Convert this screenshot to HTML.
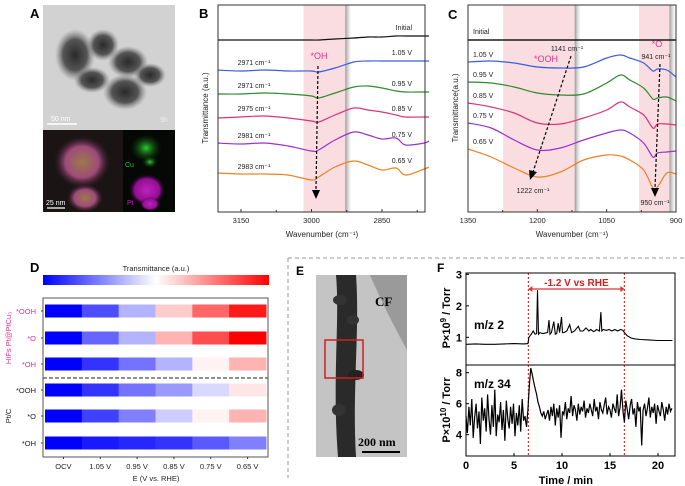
<!DOCTYPE html>
<html><head><meta charset="utf-8">
<style>
html,body{margin:0;padding:0;background:#fff;}
svg{display:block;font-family:"Liberation Sans",Arial,sans-serif;}
</style></head>
<body>
<svg id="fig" width="685" height="486" viewBox="0 0 685 486" xmlns="http://www.w3.org/2000/svg">
<defs>
<linearGradient id="shadow" x1="0" x2="1" y1="0" y2="0"><stop offset="0" stop-color="#888" stop-opacity="0.8"/><stop offset="1" stop-color="#bbb" stop-opacity="0"/></linearGradient>
<linearGradient id="cbar" x1="0" x2="1"><stop offset="0" stop-color="#0000ff"/><stop offset="0.5" stop-color="#ffffff"/><stop offset="1" stop-color="#ff0000"/></linearGradient>
<radialGradient id="blobA" cx="0.5" cy="0.5" r="0.5"><stop offset="0" stop-color="#2a2a2a"/><stop offset="0.6" stop-color="#555"/><stop offset="1" stop-color="#888" stop-opacity="0"/></radialGradient>
<radialGradient id="blobMix" cx="0.5" cy="0.5" r="0.5"><stop offset="0" stop-color="#9a7a4a"/><stop offset="0.6" stop-color="#a04a7a"/><stop offset="1" stop-color="#402030" stop-opacity="0"/></radialGradient>
<radialGradient id="blobG" cx="0.5" cy="0.5" r="0.5"><stop offset="0" stop-color="#30d030"/><stop offset="1" stop-color="#0a300a" stop-opacity="0"/></radialGradient>
<radialGradient id="blobP" cx="0.5" cy="0.5" r="0.5"><stop offset="0" stop-color="#c020c0"/><stop offset="0.7" stop-color="#901090"/><stop offset="1" stop-color="#300030" stop-opacity="0"/></radialGradient>
</defs>

<!-- Panel A -->
<g>
<text x="30" y="18" font-size="13" font-weight="bold">A</text>
<rect x="43" y="5" width="132" height="125" fill="#d2d2d2"/>
<ellipse cx="75" cy="55" rx="20" ry="26" fill="url(#blobA)"/>
<ellipse cx="103" cy="45" rx="16" ry="16" fill="url(#blobA)"/>
<ellipse cx="128" cy="62" rx="20" ry="16" fill="url(#blobA)"/>
<ellipse cx="150" cy="75" rx="16" ry="12" fill="url(#blobA)"/>
<ellipse cx="125" cy="92" rx="22" ry="18" fill="url(#blobA)"/>
<ellipse cx="92" cy="80" rx="18" ry="13" fill="url(#blobA)"/>
<line x1="47" y1="124" x2="77" y2="124" stroke="#fff" stroke-width="1.5"/>
<text x="51" y="121" font-size="7" fill="#fff">50 nm</text>
<text x="160" y="122" font-size="7" fill="#eee">9h</text>
<rect x="43" y="130" width="80" height="82" fill="#1a1414"/>
<ellipse cx="82" cy="162" rx="28" ry="26" fill="url(#blobMix)"/>
<ellipse cx="85" cy="198" rx="18" ry="14" fill="url(#blobMix)"/>
<rect x="123" y="130" width="52" height="82" fill="#050805"/>
<ellipse cx="146" cy="148" rx="16" ry="14" fill="url(#blobG)"/>
<ellipse cx="150" cy="162" rx="8" ry="6" fill="url(#blobG)"/>
<ellipse cx="147" cy="190" rx="18" ry="16" fill="url(#blobP)"/>
<ellipse cx="150" cy="204" rx="10" ry="7" fill="url(#blobP)"/>
<text x="125" y="167" font-size="7" fill="#30c030">Cu</text>
<text x="127" y="205" font-size="7" fill="#c020c0">Pt</text>
<line x1="47" y1="208" x2="65" y2="208" stroke="#fff" stroke-width="1.2"/>
<text x="46" y="205" font-size="7" fill="#fff">25 nm</text>
</g>

<g id="pb">
<text x="199" y="18" font-size="13" font-weight="bold">B</text>
</g>
<g id="pc">
<text x="448" y="19" font-size="13" font-weight="bold">C</text>
</g>
<g id="pd">
<text x="30" y="272" font-size="13" font-weight="bold">D</text>
</g>

<line x1="288" y1="258" x2="685" y2="258" stroke="#999" stroke-dasharray="4,3"/>
<line x1="288" y1="258" x2="288" y2="478" stroke="#999" stroke-dasharray="4,3"/>

<g>
<text x="296" y="275" font-size="12" font-weight="bold">E</text>
<rect x="316" y="275" width="91" height="182" fill="#c4c4c4"/>
<path d="M370,275 L407,275 L407,350 Q385,310 370,275 Z" fill="#9a9a9a"/>
<path d="M336,275 C340,320 332,380 338,457 L356,457 C352,390 360,330 356,275 Z" fill="#2a2a2a"/>
<ellipse cx="340" cy="300" rx="7" ry="5" fill="#333"/><ellipse cx="353" cy="320" rx="6" ry="5" fill="#333"/>
<ellipse cx="339" cy="410" rx="7" ry="6" fill="#333"/><ellipse cx="356" cy="375" rx="8" ry="5" fill="#222"/>
<rect x="325" y="340" width="38" height="38" fill="none" stroke="#d02020" stroke-width="1.5"/>
<text x="375" y="306" font-size="13" font-family="Liberation Serif,serif" font-weight="bold">CF</text>
<text x="358" y="446" font-size="12" font-family="Liberation Serif,serif" font-weight="bold">200 nm</text>
<line x1="362" y1="452" x2="400" y2="452" stroke="#000" stroke-width="2"/>
</g>

<g id="pf">
<text x="437" y="272" font-size="12" font-weight="bold">F</text>
</g>
</svg>
<script>
const NS='http://www.w3.org/2000/svg';
// ---------- Panel B data ----------
const bWave=[3200,3150,3100,3050,3000,2985,2950,2910,2880,2850,2820,2800,2760,2750];
const bInitial=[167,167,167,167,167,167,168,169,170,170,171,171,171,171];
const b105=[137,136,137,136,136,135,139,145,146,146,146,146,146,146];
const b095=[113,113,114,113,111,109,114,120,121,119,116,115,115,115];
const b085=[89,90,91,89,86,85,92,99,97,95,92,90,90,90];
const b075=[64,63,64,61,56,57,67,75,72,68,69,62,64,66];
const b065=[34,33,33,32,27,30,40,46,42,37,39,32,38,40];
const bLabels=['Initial','1.05 V','0.95 V','0.85 V','0.75 V','0.65 V'];
const bPeaks=['','2971 cm\u207B\u00B9','2971 cm\u207B\u00B9','2975 cm\u207B\u00B9','2981 cm\u207B\u00B9','2983 cm\u207B\u00B9'];
const bTicks=[3150,3000,2850];
const bMinor=[3075,2925,2775];
// ---------- Panel C data ----------
const cWave=[1350,1300,1250,1200,1150,1100,1050,1020,1000,970,950,940,920,900];
const cInitial=[167,167,167,167,167,167,167,167,167,167,167,167,167,167];
const c105=[145,146,144,140,139,140,149,152,149,144,136,138,137,130];
const c095=[125,124,120,114,112,113,124,132,127,119,108,109,110,106];
const c085=[104,100,94,84,83,89,97,105,100,92,79,83,83,82];
const c075=[84,79,67,57,59,67,74,77,74,64,50,54,55,56];
const c065=[58,50,39,30,35,47,52,51,47,37,19,20,34,33];
const cLabels=['Initial','1.05 V','0.95 V','0.85 V','0.75 V','0.65 V'];
const cTicks=[1350,1200,1050,900];
const cMinor=[1275,1125,975];
// ---------- Panel D data ----------
const dRows=['*OOH','*O','*OH','*OOH','*O','*OH'];
const dCols=['OCV','1.05 V','0.95 V','0.85 V','0.75 V','0.65 V'];
const dHifOOH=[-1,-0.7,-0.3,0.2,0.6,0.9];
const dHifO=[-1,-0.6,-0.3,0.3,0.7,1];
const dHifOH=[-1,-0.8,-0.55,-0.3,0.05,0.3];
const dPtOOH=[-1,-0.8,-0.55,-0.4,-0.15,0.1];
const dPtO=[-1,-0.75,-0.5,-0.2,0.05,0.3];
const dPtOH=[-1,-0.9,-0.85,-0.8,-0.65,-0.5];
// ---------- Panel F data ----------
const f2Time=[0,1,2,3,4,5,6,6.45,6.55,6.8,7.0,7.2,7.35,7.45,7.55,7.7,8.0,8.5,8.65,8.75,8.9,9.15,9.3,9.45,9.6,9.75,9.95,10.05,10.2,10.5,10.8,11.0,11.3,11.7,11.9,12.2,12.5,12.8,13.0,13.3,13.6,13.9,14.05,14.15,14.3,14.6,14.9,15.2,15.5,15.8,16.1,16.35,16.5,16.8,17.2,17.6,18.2,19,20,21.5];
const f2Val=[0.78,0.79,0.78,0.78,0.79,0.8,0.79,0.8,1.0,1.1,1.2,1.1,1.12,2.5,1.1,1.15,1.12,1.15,1.55,1.1,1.15,1.5,1.1,1.12,1.45,1.15,1.65,1.15,1.15,1.2,1.4,1.15,1.2,1.35,1.2,1.2,1.3,1.2,1.25,1.18,1.25,1.2,1.8,1.2,1.25,1.22,1.25,1.2,1.25,1.2,1.25,1.22,1.15,1.05,0.98,0.95,0.93,0.92,0.9,0.9];
const f34Val=[5.2,4.1,5.8,4.6,6.3,3.8,5.1,6.0,4.4,5.5,3.4,6.4,4.9,5.7,4.2,6.6,5.0,4.0,5.9,4.5,6.9,3.9,5.3,4.8,6.1,4.3,5.6,3.6,6.2,5.0,4.4,5.8,4.7,6.0,3.9,5.4,4.6,5.9,4.2,6.3,4.9,5.2,4.5,5.6,
7.2,8.3,7.9,7.4,7.0,6.6,6.1,5.8,5.4,5.2,5.5,5.0,5.3,
5.6,4.9,5.8,5.2,6.0,4.6,5.7,5.1,5.9,3.8,5.5,5.3,6.1,5.0,5.7,5.4,6.5,5.2,5.9,5.6,4.9,6.0,5.3,5.8,5.5,6.2,5.1,5.7,5.4,6.0,5.6,5.2,6.3,5.5,5.8,5.0,6.1,5.6,5.4,5.9,6.4,5.3,5.8,5.6,5.1,6.0,5.7,5.4,6.6,5.2,5.8,6.9,5.5,4.8,6.2,5.6,5.0,5.9,6.3,5.3,5.7,4.5,6.1,5.5,5.8,3.3,5.6,6.0,5.2,5.7,6.4,5.1,5.8,5.4,6.0,4.7,5.9,5.5,5.2,6.1,5.6,4.9,5.8,5.3,6.0,5.5,5.7];
const fTicks=[0,5,10,15,20];
const f2Ticks=[1,2,3];
const f34Ticks=[4,6,8];
const fPotential=[6.5,16.5];

function el(tag,attrs,parent,txt){const e=document.createElementNS(NS,tag);for(const k in attrs)e.setAttribute(k,attrs[k]);if(txt!==undefined)e.textContent=txt;parent.appendChild(e);return e;}
function smooth(pts){let d='M'+pts[0][0].toFixed(1)+','+pts[0][1].toFixed(1);for(let i=0;i<pts.length-1;i++){const p0=pts[i-1]||pts[i],p1=pts[i],p2=pts[i+1],p3=pts[i+2]||p2;const c1=[p1[0]+(p2[0]-p0[0])/6,p1[1]+(p2[1]-p0[1])/6],c2=[p2[0]-(p3[0]-p1[0])/6,p2[1]-(p3[1]-p1[1])/6];d+=' C'+c1[0].toFixed(1)+','+c1[1].toFixed(1)+' '+c2[0].toFixed(1)+','+c2[1].toFixed(1)+' '+p2[0].toFixed(1)+','+p2[1].toFixed(1);}return d;}
const colors=['#111','#3a5de0','#2e8b2e','#e0307a','#9b30d0','#f08020'];

// ===== Panel B =====
(function(){
const g=document.getElementById('pb');
const L=218,R=425,T=5,B=212;
const x=w=>241+(3150-w)/150*70.5;
const y=v=>207-v;
const band=el('rect',{x:x(3017),y:T,width:x(2926)-x(3017),height:B-T,fill:'#f9dde0'},g);

el('rect',{x:x(2926)-1,y:T,width:6,height:B-T,fill:'url(#shadow)'},g);
const series=[bInitial,b105,b095,b085,b075,b065];
series.forEach((s,i)=>{
 const p=el('path',{d:smooth(bWave.map((w,j)=>[x(w),y(s[j])])),fill:'none',stroke:colors[i],'stroke-width':1.2},g);
 
 
 const t=el('text',{x:412,y:y(s[s.length-2])-6,'font-size':7,'text-anchor':'end',fill:'#222'},g,bLabels[i]);
 
 if(bPeaks[i]){const t2=el('text',{x:254,y:y(s[2])-5,'font-size':7,'text-anchor':'middle',fill:'#222'},g,bPeaks[i]);
 }
});
el('line',{x1:318,y1:66,x2:316,y2:190,stroke:'#000','stroke-width':1.2,'stroke-dasharray':'3,2'},g);
el('path',{d:'M312,190 L320,190 L316,199 Z',fill:'#000'},g);
const oh=el('text',{x:319,y:59,'font-size':9,'text-anchor':'middle',fill:'#e8308a'},g,'*OH');

const box=el('rect',{x:L,y:T,width:R-L,height:B-T,fill:'none',stroke:'#333','stroke-width':1},g);

bTicks.forEach(v=>{el('line',{x1:x(v),y1:B,x2:x(v),y2:B-3,stroke:'#333'},g);
 const t=el('text',{x:x(v),y:B+11,'font-size':7.5,'text-anchor':'middle',fill:'#222'},g,v);
 });
bMinor.forEach(v=>el('line',{x1:x(v),y1:B,x2:x(v),y2:B-2,stroke:'#333'},g));
const xl=el('text',{x:322,y:237,'font-size':8,'text-anchor':'middle',fill:'#222'},g,'Wavenumber (cm\u207B\u00B9)');

const yl=el('text',{x:0,y:0,'font-size':8,'text-anchor':'middle',fill:'#222',transform:'translate(208,108) rotate(-90)'},g,'Transmittance (a.u.)');

})();

// ===== Panel C =====
(function(){
const g=document.getElementById('pc');
const L=468,R=676,T=5,B=212;
const x=w=>468+(1350-w)/450*208;
const y=v=>207-v;
[[1274,1117,'ooh-band'],[980,912,'o-band']].forEach(b=>{
 const r=el('rect',{x:x(b[0]),y:T,width:x(b[1])-x(b[0]),height:B-T,fill:'#f9dde0'},g);
 
 el('rect',{x:x(b[1])-1,y:T,width:6,height:B-T,fill:'url(#shadow)'},g);
});
const series=[cInitial,c105,c095,c085,c075,c065];
series.forEach((s,i)=>{
 const p=el('path',{d:smooth(cWave.map((w,j)=>[x(w),y(s[j])])),fill:'none',stroke:colors[i],'stroke-width':1.2},g);
 
 
 const t=el('text',{x:473,y:y(s[0])-(i==0?6:5),'font-size':7,fill:'#222'},g,cLabels[i]);
 
});
el('line',{x1:571,y1:56,x2:533,y2:172,stroke:'#000','stroke-width':1.2,'stroke-dasharray':'3,2'},g);
el('path',{d:'M529,170 L537,172 L530,180 Z',fill:'#000'},g);
el('line',{x1:660,y1:64,x2:655,y2:188,stroke:'#000','stroke-width':1.2,'stroke-dasharray':'3,2'},g);
el('path',{d:'M651,188 L659,188 L655,197 Z',fill:'#000'},g);
const ann=[[567,51,'1141 cm\u207B\u00B9',7,'#222'],[546,62,'*OOH',9,'#e8308a'],[533,193,'1222 cm\u207B\u00B9',7,'#222'],[657,47,'*O',9,'#e8308a'],[656,59,'941 cm\u207B\u00B9',7,'#222'],[655,205,'950 cm\u207B\u00B9',7,'#222']];
ann.forEach(a=>{const t=el('text',{x:a[0],y:a[1],'font-size':a[3],'text-anchor':'middle',fill:a[4]},g,a[2]);
 });
const box=el('rect',{x:L,y:T,width:R-L,height:B-T,fill:'none',stroke:'#333'},g);

el('line',{x1:L,y1:y(cInitial[0]),x2:R,y2:y(cInitial[0]),stroke:'#111','stroke-width':1.2},g);
cTicks.forEach(v=>{el('line',{x1:x(v),y1:B,x2:x(v),y2:B-3,stroke:'#333'},g);
 const t=el('text',{x:x(v),y:B+11,'font-size':7.5,'text-anchor':'middle',fill:'#222'},g,v);
 });
cMinor.forEach(v=>el('line',{x1:x(v),y1:B,x2:x(v),y2:B-2,stroke:'#333'},g));
const xl=el('text',{x:572,y:237,'font-size':8,'text-anchor':'middle',fill:'#222'},g,'Wavenumber (cm\u207B\u00B9)');

const yl=el('text',{x:0,y:0,'font-size':8,'text-anchor':'middle',fill:'#222',transform:'translate(458,108) rotate(-90)'},g,'Transmittance(a.u.)');

})();

// ===== Panel D =====
(function(){
const g=document.getElementById('pd');
const L=43,R=268,T=298,B=457;
const colW=(R-2-(L+2))/6;
const rowY=[311,338,364,390,416,443];
const rows=[dHifOOH,dHifO,dHifOH,dPtOOH,dPtO,dPtOH];
function col(v){let r,gg,b;if(v<0){const t=1+v;r=Math.round(255*t);gg=r;b=255;}else{const t=1-v;r=255;gg=Math.round(255*t);b=gg;}return `rgb(${r},${gg},${b})`;}
const cb=el('rect',{x:43,y:275,width:226,height:10,fill:'url(#cbar)'},g);

const ct=el('text',{x:156,y:271,'font-size':7.5,'text-anchor':'middle',fill:'#222'},g,'Transmittance (a.u.)');

rows.forEach((vals,i)=>{
 vals.forEach((v,j)=>{
  const c=el('rect',{x:L+2+j*colW,y:rowY[i]-6.5,width:colW+0.5,height:13,fill:col(v)},g);
  
 });
 const t=el('text',{x:36,y:rowY[i]+3,'font-size':7.5,'text-anchor':'end',fill:i<3?'#e8308a':'#222'},g,dRows[i]);
 
 el('line',{x1:L,y1:rowY[i],x2:L-2,y2:rowY[i],stroke:'#333'},g);
});
el('line',{x1:L,y1:378,x2:R,y2:378,stroke:'#222','stroke-width':1,'stroke-dasharray':'4,2'},g);
const box=el('rect',{x:L,y:T,width:R-L,height:B-T,fill:'none',stroke:'#555'},g);

dCols.forEach((c,j)=>{const cx=L+2+(j+0.5)*colW;el('line',{x1:cx,y1:B,x2:cx,y2:B+2,stroke:'#333'},g);
 const t=el('text',{x:cx,y:469,'font-size':7.5,'text-anchor':'middle',fill:'#222'},g,c);
 });
const xl=el('text',{x:156,y:481,'font-size':7.5,'text-anchor':'middle',fill:'#222'},g,'E (V vs. RHE)');

const g1=el('text',{x:0,y:0,'font-size':7.5,'text-anchor':'middle',fill:'#e8308a',transform:'translate(11,338) rotate(-90)'},g,'HIFs Pt@PtCu\u2083');

const g2=el('text',{x:0,y:0,'font-size':7.5,'text-anchor':'middle',fill:'#222',transform:'translate(11,416) rotate(-90)'},g,'Pt/C');

})();

// ===== Panel F =====
(function(){
const g=document.getElementById('pf');
const L=466,R=675,T=273,M=365,B=456;
const x=t=>466+t*9.6;
const y2=v=>262/3+250-(v-1)*31.5;
const y34=v=>250+368/3-(v-8)*15.5;
const dt=0.15;
fPotential.forEach(t=>{const l=el('line',{x1:x(t),y1:T,x2:x(t),y2:B,stroke:'#e03030','stroke-width':1.2,'stroke-dasharray':'2,2'},g);
 });
el('line',{x1:x(fPotential[0])+1,y1:289,x2:x(fPotential[1])-1,y2:289,stroke:'#e03030','stroke-width':1.2},g);
el('path',{d:`M${x(fPotential[0])},289 l4,-3 v6 Z M${x(fPotential[1])},289 l-4,-3 v6 Z`,fill:'#e03030'},g);
const pl=el('text',{x:(x(fPotential[0])+x(fPotential[1]))/2,y:286,'font-size':10,'font-weight':'bold','text-anchor':'middle',fill:'#d02020'},g,'-1.2 V vs RHE');

let d='';f2Time.forEach((t,i)=>{d+=(i?'L':'M')+x(t).toFixed(1)+','+y2(f2Val[i]).toFixed(1);});
const p2=el('path',{d:d,fill:'none',stroke:'#000','stroke-width':1.1},g);

let d2='';f34Val.forEach((v,i)=>{d2+=(i?'L':'M')+x(i*dt).toFixed(1)+','+y34(v).toFixed(1);});
const p34=el('path',{d:d2,fill:'none',stroke:'#000','stroke-width':1.2},g);

const f1=el('rect',{x:L,y:T,width:R-L,height:M-T,fill:'none',stroke:'#000','stroke-width':1},g);

const f2=el('rect',{x:L,y:M,width:R-L,height:B-M,fill:'none',stroke:'#000','stroke-width':1},g);

f2Ticks.forEach(v=>{el('line',{x1:L,y1:y2(v),x2:L+3,y2:y2(v),stroke:'#000'},g);
 const t=el('text',{x:L-4,y:y2(v)+4,'font-size':11,'font-weight':'bold','text-anchor':'end'},g,v);
 });
f34Ticks.forEach(v=>{el('line',{x1:L,y1:y34(v),x2:L+3,y2:y34(v),stroke:'#000'},g);
 const t=el('text',{x:L-4,y:y34(v)+4,'font-size':11,'font-weight':'bold','text-anchor':'end'},g,v);
 });
fTicks.forEach(v=>{el('line',{x1:x(v),y1:B,x2:x(v),y2:B-3,stroke:'#000'},g);
 const t=el('text',{x:x(v),y:B+13,'font-size':11,'font-weight':'bold','text-anchor':'middle'},g,v);
 });
const xl=el('text',{x:x(10.4),y:484,'font-size':11,'font-weight':'bold','text-anchor':'middle'},g,'Time / min');

const m2=el('text',{x:474,y:329,'font-size':12,'font-weight':'bold'},g,'m/z 2');

const m34=el('text',{x:474,y:388,'font-size':12,'font-weight':'bold'},g,'m/z 34');

const yt=el('text',{x:0,y:0,'font-size':11,'font-weight':'bold','text-anchor':'middle',transform:'translate(450,318) rotate(-90)'},g);

yt.innerHTML='P\u00D710<tspan dy="-4" font-size="8">9</tspan><tspan dy="4"> / Torr</tspan>';
const yb=el('text',{x:0,y:0,'font-size':11,'font-weight':'bold','text-anchor':'middle',transform:'translate(450,410) rotate(-90)'},g);

yb.innerHTML='P\u00D710<tspan dy="-4" font-size="8">10</tspan><tspan dy="4"> / Torr</tspan>';
})();
</script>
</body></html>
